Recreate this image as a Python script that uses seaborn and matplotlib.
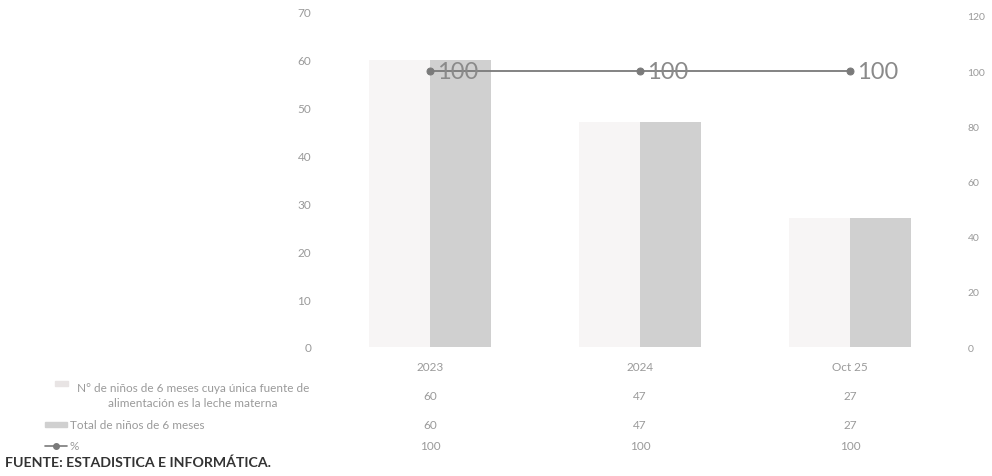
import numpy as np
import pandas as pd
import matplotlib
matplotlib.use("Agg")
import matplotlib.pyplot as plt
import matplotlib.transforms as mtransforms
import seaborn as sns

categories = ["2023", "2024", "Oct 25"]
serie_lactancia = [60, 47, 27]
serie_total = [60, 47, 27]
serie_pct = [100, 100, 100]
nombre_lactancia = "N° de niños de 6 meses cuya única fuente de\nalimentación es la leche materna"
nombre_total = "Total de niños de 6 meses"
nombre_pct = "%"
left_ticks = [0, 10, 20, 30, 40, 50, 60, 70]
right_ticks = [0, 20, 40, 60, 80, 100, 120]
fuente = "FUENTE: ESTADISTICA E INFORMÁTICA."

sns.set_theme(style="white")
plt.rcParams['font.family'] = ['Lato', 'DejaVu Sans']

c_light = "#f7f5f5"
c_gray = "#d0d0d0"
c_line = "#7a7a7a"
c_text = "#9a9a9a"

df = pd.DataFrame({
    "cat": categories * 2,
    "serie": [nombre_lactancia] * 3 + [nombre_total] * 3,
    "valor": serie_lactancia + serie_total,
})

fig = plt.figure(figsize=(9.92, 4.77), dpi=100)
ax = fig.add_axes([325 / 992, 1 - 348 / 477, 630 / 992, 335 / 477])
sns.barplot(data=df, x="cat", y="valor", hue="serie", order=categories,
            hue_order=[nombre_lactancia, nombre_total],
            palette=[c_light, c_gray], width=0.58, gap=0, ax=ax,
            legend=False, saturation=1, edgecolor="none")
ax.set_xlim(-0.5, 2.5)
ax.set_ylim(0, 70)
ax.set_yticks(left_ticks)
ax.set_xlabel("")
ax.set_ylabel("")
ax.tick_params(axis="both", length=0, labelsize=8.5, labelcolor=c_text)
ax.tick_params(axis="y", pad=10)
ax.tick_params(axis="x", pad=10)
for s in ax.spines.values():
    s.set_visible(False)

ax2 = ax.twinx()
xpos = np.arange(len(categories))
sns.lineplot(x=xpos, y=serie_pct, ax=ax2, color=c_line, marker="o",
             markersize=5, linewidth=1.3, markeredgecolor=c_line)
ax2.set_ylim(0, 121.4)
ax2.set_yticks(right_ticks)
ax2.set_xlim(-0.5, 2.5)
ax2.tick_params(axis="y", length=0, labelsize=7.5, labelcolor=c_text, pad=9)
for s in ax2.spines.values():
    s.set_visible(False)
for i, v in enumerate(serie_pct):
    ax2.annotate(f"{v}", (xpos[i], v), xytext=(5, 0), textcoords="offset points",
                 va="center", ha="left", fontsize=17, color="#8a8a8a")

# data table
trans = mtransforms.blended_transform_factory(ax.transData, fig.transFigure)
rows_y = [1 - 396 / 477, 1 - 426 / 477, 1 - 447 / 477]
for vals, y in zip([serie_lactancia, serie_total, serie_pct], rows_y):
    for i, v in enumerate(vals):
        fig.text(xpos[i], y, f"{v}", transform=trans, ha="center", va="center",
                 fontsize=8.5, color=c_text)

fig.text(193 / 992, rows_y[0], nombre_lactancia, ha="center", va="center",
         multialignment="center", fontsize=8.5, color=c_text, linespacing=1.5)
fig.patches.append(plt.Rectangle((55 / 992, 1 - 387 / 477), 13 / 992, 5 / 477,
                                 transform=fig.transFigure, color="#e8e4e4"))
fig.text(70 / 992, rows_y[1], nombre_total, ha="left", va="center",
         fontsize=8.5, color=c_text)
fig.patches.append(plt.Rectangle((45 / 992, 1 - 428 / 477), 22 / 992, 5 / 477,
                                 transform=fig.transFigure, color=c_gray))
fig.lines.append(plt.Line2D([45 / 992, 67 / 992], [rows_y[2], rows_y[2]],
                            transform=fig.transFigure, color=c_line, lw=1.2,
                            marker=None))
fig.lines.append(plt.Line2D([56 / 992], [rows_y[2]], transform=fig.transFigure,
                            color=c_line, marker="o", markersize=4))
fig.text(70 / 992, rows_y[2], nombre_pct, ha="left", va="center",
         fontsize=8.5, color=c_text)

fig.text(5 / 992, 1 - 463 / 477, fuente, ha="left", va="center",
         fontsize=10.2, fontweight="bold", color="#333333")

fig.savefig("out.png", dpi=100)
